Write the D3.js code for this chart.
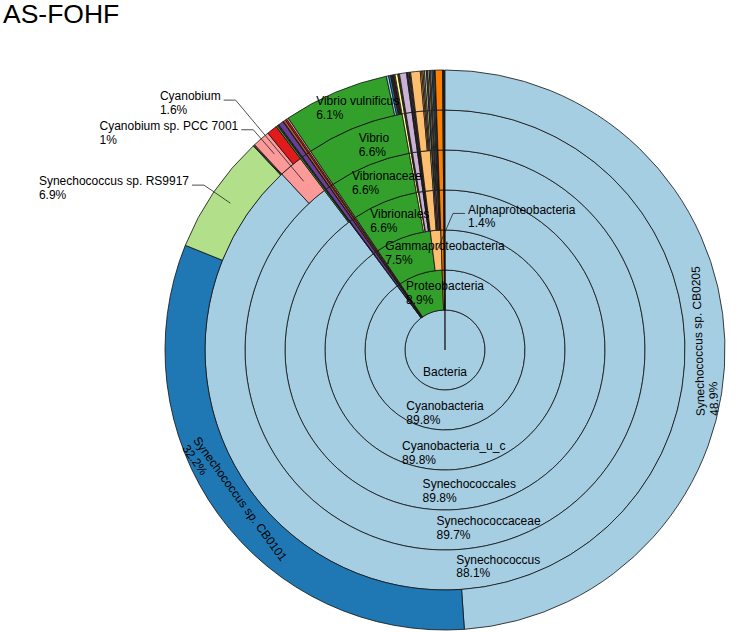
<!DOCTYPE html>
<html>
<head>
<meta charset="utf-8">
<script src="https://cdn.jsdelivr.net/npm/d3@7"></script>
<style>
  body { margin: 0; background: #fff; }
  text { font-family: "Liberation Sans", Arial, sans-serif; fill: #000; }
</style>
</head>
<body>
<svg id="chart" width="746" height="632"></svg>
<script>
// sample + taxonomy
const title = "AS-FOHF";
const rootName = "Bacteria";

// lineage below the root: phylum;class;order;family;genus;species (clockwise order)
const lineages = [
  "Cyanobacteria;Cyanobacteria_u_c;Synechococcales;Synechococcaceae;Synechococcus;Synechococcus sp. CB0205",
  "Cyanobacteria;Cyanobacteria_u_c;Synechococcales;Synechococcaceae;Synechococcus;Synechococcus sp. CB0101",
  "Cyanobacteria;Cyanobacteria_u_c;Synechococcales;Synechococcaceae;Synechococcus;Synechococcus sp. RS9917",
  "Cyanobacteria;Cyanobacteria_u_c;Synechococcales;Synechococcaceae;Synechococcus;Synechococcus sp. WH 7803",
  "Cyanobacteria;Cyanobacteria_u_c;Synechococcales;Synechococcaceae;Synechococcus;Synechococcus sp. CC9311",
  "Cyanobacteria;Cyanobacteria_u_c;Synechococcales;Synechococcaceae;Cyanobium;Cyanobium sp. PCC 7001",
  "Cyanobacteria;Cyanobacteria_u_c;Synechococcales;Synechococcaceae;Cyanobium;Cyanobium gracile",
  "Cyanobacteria;Cyanobacteria_u_c;Synechococcales;Prochloraceae;Prochlorococcus;Prochlorococcus marinus",
  "Actinobacteria;Actinobacteria_c;Micrococcales;Microbacteriaceae;Candidatus Aquiluna;Candidatus Aquiluna sp.",
  "Actinobacteria;Actinobacteria_c;Corynebacteriales;Mycobacteriaceae;Mycobacterium;Mycobacterium sp.",
  "Planctomycetes;Planctomycetia;Planctomycetales;Planctomycetaceae;Rhodopirellula;Rhodopirellula baltica",
  "Deinococcus-Thermus;Deinococci;Deinococcales;Deinococcaceae;Deinococcus;Deinococcus sp.",
  "Verrucomicrobia;Opitutae;Puniceicoccales;Puniceicoccaceae;Coraliomargarita;Coraliomargarita akajimensis",
  "Firmicutes;Bacilli;Bacillales;Bacillaceae;Bacillus;Bacillus sp.",
  "Chloroflexi;Anaerolineae;Anaerolineales;Anaerolineaceae;Anaerolinea;Anaerolinea thermophila",
  "Proteobacteria;Gammaproteobacteria;Vibrionales;Vibrionaceae;Vibrio;Vibrio vulnificus",
  "Proteobacteria;Gammaproteobacteria;Vibrionales;Vibrionaceae;Vibrio;Vibrio parahaemolyticus",
  "Proteobacteria;Gammaproteobacteria;Vibrionales;Vibrionaceae;Vibrio;Vibrio alginolyticus",
  "Proteobacteria;Gammaproteobacteria;Vibrionales;Vibrionaceae;Vibrio;Vibrio harveyi",
  "Proteobacteria;Gammaproteobacteria;Vibrionales;Vibrionaceae;Vibrio;Vibrio cholerae",
  "Proteobacteria;Gammaproteobacteria;Vibrionales;Vibrionaceae;Vibrio;Vibrio splendidus",
  "Proteobacteria;Gammaproteobacteria;Vibrionales;Vibrionaceae;Vibrio;Vibrio campbellii",
  "Proteobacteria;Gammaproteobacteria;Vibrionales;Vibrionaceae;Vibrio;Vibrio anguillarum",
  "Proteobacteria;Gammaproteobacteria;Vibrionales;Vibrionaceae;Vibrio;Vibrio sp.",
  "Proteobacteria;Gammaproteobacteria;Pseudomonadales;Pseudomonadaceae;Pseudomonas;Pseudomonas stutzeri",
  "Proteobacteria;Gammaproteobacteria;Pseudomonadales;Moraxellaceae;Psychrobacter;Psychrobacter sp.",
  "Proteobacteria;Gammaproteobacteria;Alteromonadales;Alteromonadaceae;Alteromonas;Alteromonas macleodii",
  "Proteobacteria;Gammaproteobacteria;Oceanospirillales;Halomonadaceae;Halomonas;Halomonas sp.",
  "Proteobacteria;Gammaproteobacteria;Enterobacterales;Enterobacteriaceae;Escherichia;Escherichia coli",
  "Proteobacteria;Gammaproteobacteria;Cellvibrionales;Halieaceae;Congregibacter;Congregibacter litoralis",
  "Proteobacteria;Gammaproteobacteria;Thiotrichales;Piscirickettsiaceae;Methylophaga;Methylophaga sp.",
  "Proteobacteria;Gammaproteobacteria;Xanthomonadales;Xanthomonadaceae;Stenotrophomonas;Stenotrophomonas maltophilia",
  "Proteobacteria;Gammaproteobacteria;Aeromonadales;Aeromonadaceae;Aeromonas;Aeromonas hydrophila",
  "Proteobacteria;Alphaproteobacteria;Rhodobacterales;Rhodobacteraceae;Ruegeria;Ruegeria pomeroyi",
  "Proteobacteria;Alphaproteobacteria;Rhodobacterales;Rhodobacteraceae;Roseobacter;Roseobacter litoralis",
  "Proteobacteria;Alphaproteobacteria;Rhodobacterales;Rhodobacteraceae;Sulfitobacter;Sulfitobacter sp.",
  "Proteobacteria;Alphaproteobacteria;Rhodobacterales;Rhodobacteraceae;Dinoroseobacter;Dinoroseobacter shibae",
  "Proteobacteria;Alphaproteobacteria;Pelagibacterales;Pelagibacteraceae;Candidatus Pelagibacter;Candidatus Pelagibacter ubique",
  "Proteobacteria;Alphaproteobacteria;Rhizobiales;Rhizobiaceae;Rhizobium;Rhizobium sp.",
  "Proteobacteria;Alphaproteobacteria;Rhizobiales;Methylobacteriaceae;Methylobacterium;Methylobacterium sp.",
  "Proteobacteria;Alphaproteobacteria;Sphingomonadales;Erythrobacteraceae;Erythrobacter;Erythrobacter litoralis",
  "Proteobacteria;Alphaproteobacteria;Sphingomonadales;Sphingomonadaceae;Sphingopyxis;Sphingopyxis alaskensis",
  "Proteobacteria;Alphaproteobacteria;Rhodospirillales;Rhodospirillaceae;Thalassospira;Thalassospira sp.",
  "Proteobacteria;Alphaproteobacteria;Caulobacterales;Hyphomonadaceae;Hyphomonas;Hyphomonas neptunium",
  "Proteobacteria;Alphaproteobacteria;Parvularculales;Parvularculaceae;Parvularcula;Parvularcula bermudensis",
  "Bacteroidetes;Flavobacteriia;Flavobacteriales;Flavobacteriaceae;Polaribacter;Polaribacter sp. MED152",
  "Spirochaetes;Spirochaetia;Spirochaetales;Spirochaetaceae;Spirochaeta;Spirochaeta sp.",
  "Fusobacteria;Fusobacteriia;Fusobacteriales;Fusobacteriaceae;Fusobacterium;Fusobacterium sp.",
  "Tenericutes;Mollicutes;Mycoplasmatales;Mycoplasmataceae;Mycoplasma;Mycoplasma sp."
];

// relative abundance (%) of each lineage above
const abundance = [
  48.9, 32.2, 6.9, 0.05, 0.05, 1.0, 0.6, 0.1,
  0.04, 0.04, 0.3, 0.03, 0.14, 0.09, 0.1,
  6.1, 0.13, 0.12, 0.04, 0.04, 0.04, 0.03, 0.05, 0.05,
  0.16, 0.05, 0.05, 0.4, 0.04, 0.05, 0.05, 0.05, 0.05,
  0.55, 0.08, 0.08, 0.08, 0.11, 0.08, 0.08, 0.08, 0.08, 0.08, 0.06, 0.04,
  0.42, 0.05, 0.05, 0.04
];

const cx = 445, cy = 350, R = 280;
const fontSize = 12, lh = 13.6;
const minLabelPct = 0.995;

// build the nested tree from the lineages
const tree = { name: rootName, children: [] };
lineages.forEach((path, i) => {
  let node = tree;
  path.split(";").forEach(name => {
    let child = node.children.find(c => c.name === name);
    if (!child) { child = { name: name, children: [] }; node.children.push(child); }
    node = child;
  });
  node.value = abundance[i];
  node.id = i;
});

const root = d3.hierarchy(tree).sum(d => d.value || 0);
const levels = root.height + 1;
d3.partition().size([2 * Math.PI, levels])(root);

const r = d3.scaleLinear().domain([0, levels]).range([0, R]);
const total = root.value;

// leaves ranked by size get the Paired colours; a parent takes its biggest leaf's colour
const ranked = root.leaves().slice().sort((a, b) => b.value - a.value);
const palette = d3.scaleOrdinal(d3.schemePaired).domain(ranked.map(d => d.data.id));
function nodeColor(d) {
  const top = d.leaves().reduce((m, l) => l.value > m.value ? l : m);
  return palette(top.data.id);
}

// the root is kept just short of a full turn so its seam line shows
const arc = d3.arc()
  .startAngle(d => d.x0)
  .endAngle(d => Math.min(d.x1, 2 * Math.PI - 0.003))
  .innerRadius(d => r(d.y0))
  .outerRadius(d => r(d.y1));

const svg = d3.select("#chart");

svg.append("text")
  .attr("x", 3)
  .attr("y", 23)
  .style("font-size", "26.5px")
  .text(title);

const chart = svg.append("g").attr("transform", `translate(${cx},${cy})`);

chart.selectAll("path")
  .data(root.descendants())
  .join("path")
  .attr("d", arc)
  .attr("fill", nodeColor)
  .attr("stroke", "#111")
  .attr("stroke-width", 0.8);

const leaderLayer = svg.append("g");
const labelLayer = svg.append("g").style("font-size", fontSize + "px");

function polar(theta, rr) {
  return [cx + rr * Math.sin(theta), cy - rr * Math.cos(theta)];
}
function pct(d) {
  return (+(d.value / total * 100).toFixed(1)) + "%";
}
function makeBlock(lines) {
  const g = labelLayer.append("g");
  const texts = lines.map((t, i) => g.append("text")
    .attr("dy", "0.35em")
    .attr("y", (i - (lines.length - 1) / 2) * lh)
    .text(t));
  const w = d3.max(texts, t => t.node().getComputedTextLength());
  texts.forEach(t => t.attr("x", -w / 2));
  return { g: g, w: w, h: lines.length * lh };
}

// root label
const rootBlock = makeBlock([rootName]);
const rootPos = polar(Math.PI, r(0.5));
rootBlock.g.attr("transform", `translate(${rootPos[0]},${rootPos[1] + 2})`);

const ringW = r(1) - r(0);
const deg = Math.PI / 180;
const callouts = [];

root.descendants()
  .filter(d => d.depth > 0 && d.value / total * 100 >= minLabelPct)
  .forEach(d => {
    const block = makeBlock([d.data.name, pct(d)]);
    const span = d.x1 - d.x0;
    const mid = (d.x0 + d.x1) / 2;
    const rMid = r((d.y0 + d.y1) / 2);
    if (block.w > span * R) {
      callouts.push({ d: d, block: block, mid: mid, rMid: rMid });
      return;
    }
    const axis = Math.round(mid / Math.PI) * Math.PI;
    let theta = mid + 0.15 * (axis - mid);
    if (span > Math.PI) theta = Math.PI - Math.min(14, (d.depth - 1) * 5) * deg;
    else if (block.w > 1.5 * span * rMid) theta = axis;
    let rot = 0, p = polar(theta, rMid);
    if (block.w * Math.abs(Math.sin(theta)) > ringW) {
      // too long to sit across the ring: run it along the arc instead
      p = polar(mid, rMid);
      rot = mid / deg - 180;
      if (rot < -180) rot += 360;
      if (Math.abs(rot) > 100) rot += rot > 0 ? -180 : 180;
    } else {
      p = [p[0], p[1] + 3];
    }
    block.g.attr("transform", `translate(${p}) rotate(${rot})`);
  });

// labels that do not fit go outside on a leader line
const seg = 12, gap = 3;
const placed = [];
function overlaps(b) {
  return placed.some(p => b.x0 < p.x1 + 2 && b.x1 > p.x0 - 2 && b.y0 < p.y1 + 2 && b.y1 > p.y0 - 2);
}
callouts.sort((a, b) => a.mid - b.mid).forEach(c => {
  const anchor = polar(c.mid, c.rMid);
  let ex, ey, dir;
  if (c.mid > 2 * Math.PI - 20 * deg) {
    // close to the top: lead to the right, inside the chart
    const rr = r(c.d.y1) + 17;
    ey = cy - rr * Math.cos(c.mid);
    ex = cx + 8;
    dir = 1;
  } else {
    let rr = R + 12, box;
    do {
      [ex, ey] = polar(c.mid, rr);
      const right = ex - seg - gap;
      box = { x0: right - c.block.w, x1: right, y0: ey - 4 - lh / 2, y1: ey - 4 + lh * 1.5 };
      rr += 1;
    } while (overlaps(box) && rr < R + 200);
    placed.push(box);
    dir = -1;
  }
  const bx = ex + dir * (seg + gap + c.block.w / 2);
  const by = ey - 4 + lh / 2;
  c.block.g.attr("transform", `translate(${bx},${by})`);
  leaderLayer.append("path")
    .attr("d", d3.line()([anchor, [ex, ey], [ex + dir * seg, ey]]))
    .attr("fill", "none")
    .attr("stroke", "#222")
    .attr("stroke-width", 0.8);
});
</script>
</body>
</html>
